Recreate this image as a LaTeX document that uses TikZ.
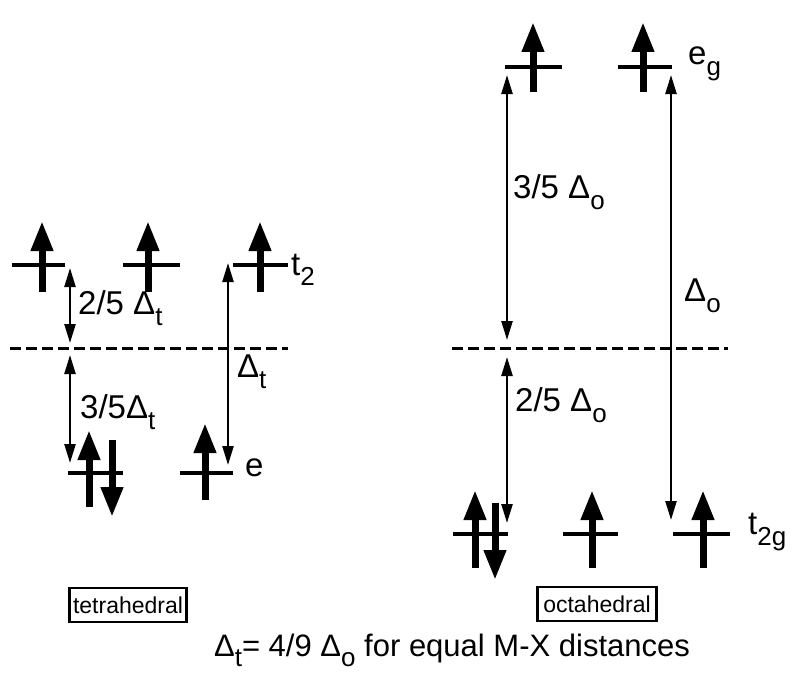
\documentclass[tikz,border=0pt]{standalone}
\usepackage{fontspec}
\setmainfont{Liberation Sans}
\usetikzlibrary{arrows.meta}
\newcommand{\dsub}[2]{#1\raisebox{-0.32em}{\fontsize{26}{26}\selectfont #2}}

\begin{document}
\begin{tikzpicture}[x=1pt, y=-1pt,
        level/.style={line width=4pt},
        spinarr/.style={line width=7pt, -{Triangle[width=21pt,length=30pt]}},
        gap/.style={line width=2.3pt, {Triangle[width=11pt,length=19pt]}-{Triangle[width=11pt,length=19pt]}},
        bary/.style={line width=3pt, dash pattern=on 11pt off 5pt},
        lbl/.style={font=\fontsize{33}{33}\selectfont, anchor=west, inner sep=0pt},
        geom/.style={draw, line width=2.3pt, font=\fontsize{23}{23}\selectfont, inner sep=3pt, minimum height=34pt}]
    \useasboundingbox (0,0) rectangle (800,685);
        % tetrahedral
        \foreach \a/\b in {12/65,123/180,233/288} {
            \draw[level] (\a,265) -- (\b,265);
        }
        \foreach \x in {42,148,260} {
            \draw[spinarr] (\x,292) -- (\x,221);
        }
        \draw[bary] (10,348) -- (288,348);
        \foreach \a/\b in {68/123,180/233} {
            \draw[level] (\a,473) -- (\b,473);
        }
        \draw[spinarr] (89,507) -- (89,430);
        \draw[spinarr] (112,440) -- (112,517);
        \draw[spinarr] (205,500) -- (205,423);
        \node[lbl] (t2lab) at (291,270) {\dsub{t}{2}};
        \node[lbl] (elab) at (245,468) {e};
        \coordinate (t2a) at (70,268);
        \coordinate (tbar1) at (70,343);
        \coordinate (tbar2) at (70,355);
        \coordinate (ea) at (70,463);
        \coordinate (t2b) at (228,263);
        \coordinate (eb) at (228,465);
        \draw[gap] (t2a) -- (tbar1);
        \draw[gap] (tbar2) -- (ea);
        \draw[gap] (t2b) -- (eb);
        \node[lbl] (twofivet) at (78,308) {2/5 \dsub{Δ}{t}};
        \node[lbl] (threefivet) at (80,412) {3/5\dsub{Δ}{t}};
        \node[lbl] (deltat) at (237,372) {\dsub{Δ}{t}};
        % octahedral
        \foreach \a/\b in {505/562,618/672} {
            \draw[level] (\a,67) -- (\b,67);
        }
        \foreach \x in {533,643} {
            \draw[spinarr] (\x,92) -- (\x,22);
        }
        \draw[bary] (452,348) -- (728,348);
        \foreach \a/\b in {453/508,563/618,673/730} {
            \draw[level] (\a,534) -- (\b,534);
        }
        \draw[spinarr] (475,568) -- (475,490);
        \draw[spinarr] (495,503) -- (495,580);
        \draw[spinarr] (592,568) -- (592,490);
        \draw[spinarr] (703,568) -- (703,490);
        \node[lbl] (eglab) at (688,64) {\dsub{e}{g}};
        \node[lbl] (t2glab) at (748,532) {\dsub{t}{2g}};
        \coordinate (ega) at (507,75);
        \coordinate (obar1) at (507,340);
        \coordinate (obar2) at (507,357);
        \coordinate (t2ga) at (507,523);
        \coordinate (egb) at (671,75);
        \coordinate (t2gb) at (671,520);
        \draw[gap] (ega) -- (obar1);
        \draw[gap] (obar2) -- (t2ga);
        \draw[gap] (egb) -- (t2gb);
        \node[lbl] (threefiveo) at (513,192) {3/5 \dsub{Δ}{o}};
        \node[lbl] (twofiveo) at (515,405) {2/5 \dsub{Δ}{o}};
        \node[lbl] (deltao) at (684,296) {\dsub{Δ}{o}};
        % captions
        \node[geom, minimum width=117pt] (tetbox) at (128,605) {tetrahedral};
        \node[geom, minimum width=119pt] (octbox) at (597,604) {octahedral};
        \node[font=\fontsize{31}{31}\selectfont] (ratio) at (452,650) {\dsub{Δ}{t}= 4/9 \dsub{Δ}{o} for equal M-X distances};
    \end{tikzpicture}
\end{document}
